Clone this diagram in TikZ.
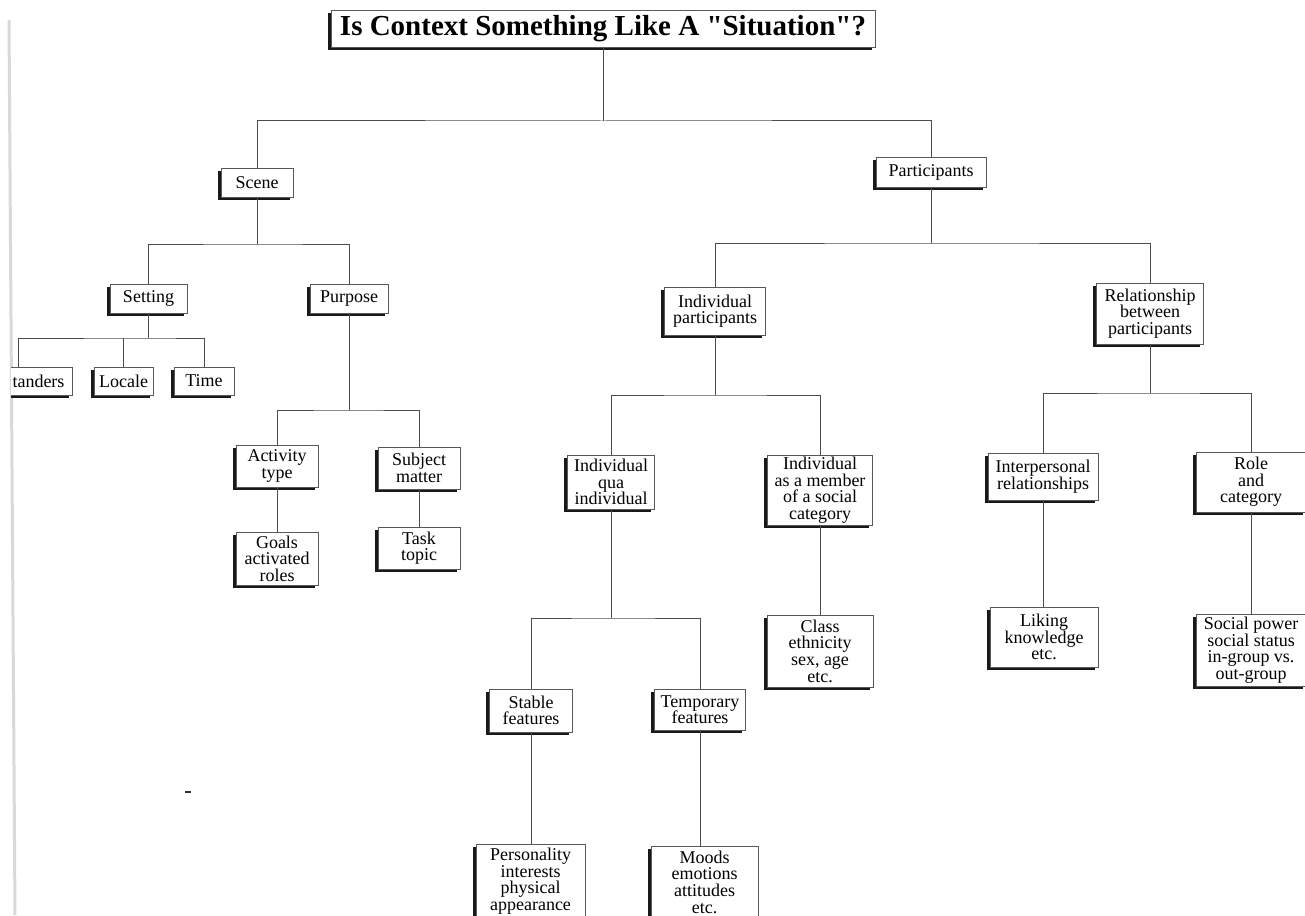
\documentclass[tikz,border=0pt]{standalone}
\usepackage{fontspec}
\setmainfont{Liberation Serif}
\usetikzlibrary{shadows}
\newcommand\boxfont{\fontsize{9}{8.3}\selectfont\lineskiplimit=-20pt\relax}
\newcommand\titlefont{\fontsize{14.5}{16}\selectfont\bfseries}
\tikzset{
  box/.style={draw=black!65, line width=0.45pt, fill=white, inner sep=0pt,
    align=center, font=\boxfont,
    general shadow={shadow xshift=-1.6pt, shadow yshift=-1.5pt, fill=black!90, draw=none}},
  sz/.style 2 args={minimum width=#1*0.5pt, minimum height=#2*0.5pt},
  ln/.style={draw=black!70, line width=0.5pt}
}
\begin{document}
\begin{tikzpicture}[x=0.5pt, y=-0.5pt]
\useasboundingbox (0,0) rectangle (1305,915);
\fill[white] (0,0) rectangle (1305,915);
% scan edge
\draw[gray!30, line width=1.5pt] (9,20) -- (15,915);
\draw[black!80, line width=1pt] (185,792) -- (191,792);

% nodes
\node[box, sz={544}{37}, font=\titlefont] (title) at (603,28.5) {Is Context Something Like A \textquotedbl Situation\textquotedbl ?};
\node[box, sz={72}{29}] (scene) at (257,182.5) {Scene};
\node[box, sz={110}{30}] (part) at (931,172) {Participants};
\node[box, sz={77}{29}] (setting) at (148.5,298.5) {Setting};
\node[box, sz={78}{29}] (purpose) at (349,298.5) {Purpose};
\begin{scope}
\clip (11,0) rectangle (1305,915);
\node[box, sz={67}{28}] (byst) at (38.5,381) {tanders};
\end{scope}
\node[box, sz={59}{28}] (locale) at (123.5,381) {Locale};
\node[box, sz={60}{28}] (time) at (204,381) {Time};
\node[box, sz={82}{42}] (activity) at (277,466) {Activity\\type};
\node[box, sz={82}{42}] (subject) at (419,468) {Subject\\matter};
\node[box, sz={82}{53}] (goals) at (277,558.5) {Goals\\activated\\roles};
\node[box, sz={82}{42}] (task) at (419,548) {Task\\topic};
\node[box, sz={101}{48}] (ip) at (715,311) {Individual\\participants};
\node[box, sz={107}{61}] (rel) at (1150,313.5) {Relationship\\between\\participants};
\node[box, sz={87}{54}] (iqi) at (611,482) {Individual\\qua\\individual};
\node[box, sz={105}{70}] (iam) at (820,490) {Individual\\as a member\\of a social\\category};
\node[box, sz={110}{47}] (inter) at (1043,476.5) {Interpersonal\\relationships};
\node[box, sz={110}{60}] (role) at (1251,482) {Role\\and\\category};
\node[box, sz={83}{43}] (stable) at (531,710.5) {Stable\\features};
\node[box, sz={91}{41}] (temp) at (700,709.5) {Temporary\\features};
\node[box, sz={106}{72}] (class) at (820,651) {Class\\ethnicity\\sex, age\\etc.};
\node[box, sz={108}{60}] (liking) at (1044,637) {Liking\\knowledge\\etc.};
\node[box, sz={110}{72}] (social) at (1251,650) {Social power\\social status\\in-group vs.\\out-group};
\node[box, sz={109}{74}] (pers) at (530.5,881) {Personality\\interests\\physical\\appearance};
\node[box, sz={107}{72}] (moods) at (704.5,882) {Moods\\emotions\\attitudes\\etc.};

% connectors
\draw[ln] (title.south) -- (title.south |- 0,121);
\draw[ln] (scene.north) |- (title.south |- 0,121) -| (part.north);

\draw[ln] (scene.south) -- (scene.south |- 0,244);
\draw[ln] (setting.north) |- (scene.south |- 0,244) -| (purpose.north);

\draw[ln] (part.south) -- (part.south |- 0,243);
\draw[ln] (ip.north) |- (part.south |- 0,243) -| (rel.north);

\draw[ln] (setting.south) -- (setting.south |- 0,338);
\draw[ln] (18,0 |- byst.north) |- (setting.south |- 0,338) -| (time.north);
\draw[ln] (locale.north) -- (locale.north |- 0,338);

\draw[ln] (purpose.south) -- (purpose.south |- 0,410);
\draw[ln] (activity.north) |- (purpose.south |- 0,410) -| (subject.north);
\draw[ln] (activity.south) -- (goals.north);
\draw[ln] (subject.south) -- (task.north);

\draw[ln] (ip.south) -- (ip.south |- 0,395);
\draw[ln] (iqi.north) |- (ip.south |- 0,395) -| (iam.north);
\draw[ln] (iam.south) -- (class.north);

\draw[ln] (rel.south) -- (rel.south |- 0,393);
\draw[ln] (inter.north) |- (rel.south |- 0,393) -| (role.north);
\draw[ln] (inter.south) -- (liking.north -| inter.south);
\draw[ln] (role.south) -- (social.north);

\draw[ln] (iqi.south) -- (iqi.south |- 0,618);
\draw[ln] (stable.north) |- (iqi.south |- 0,618) -| (temp.north);
\draw[ln] (stable.south) -- (pers.north -| stable.south);
\draw[ln] (temp.south) -- (moods.north -| temp.south);
\end{tikzpicture}
\end{document}
